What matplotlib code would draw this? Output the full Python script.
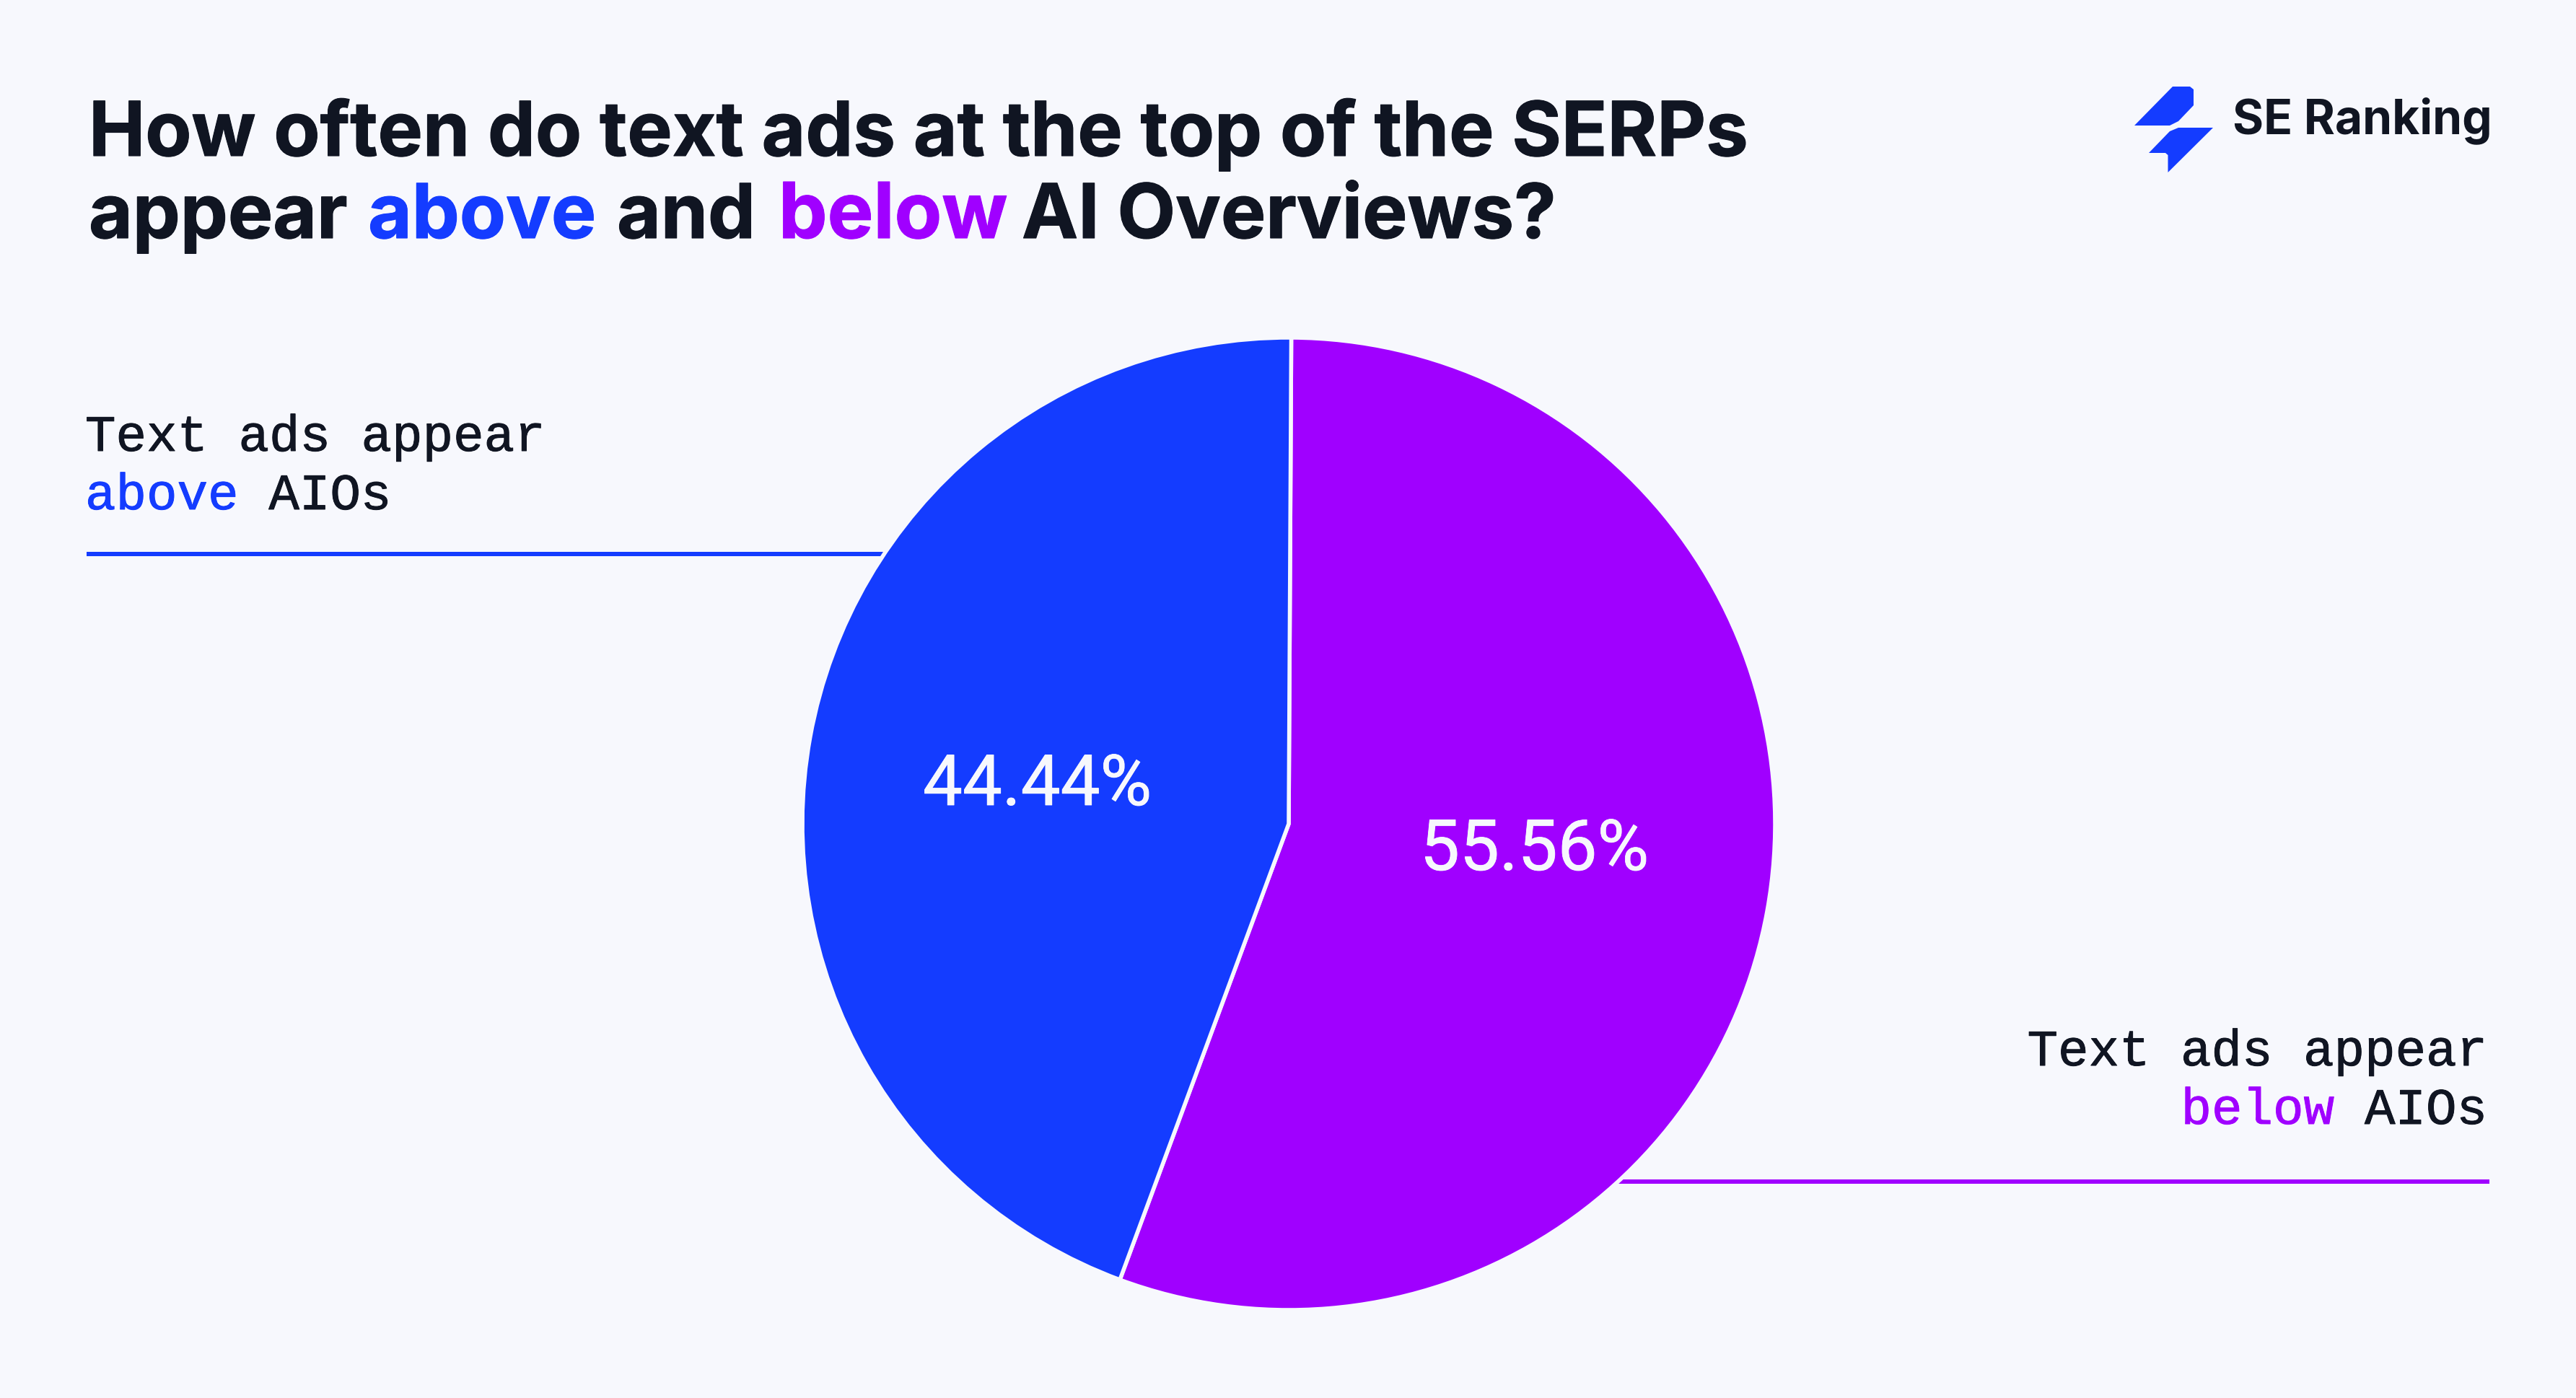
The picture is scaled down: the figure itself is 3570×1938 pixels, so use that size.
import matplotlib
matplotlib.use("Agg")
import matplotlib.pyplot as plt
import matplotlib.patheffects as pe
from matplotlib.patches import Polygon

# ---- data ----
categories = ["Text ads appear below AIOs", "Text ads appear above AIOs"]
shares = [55.56, 44.44]
share_labels = ["55.56%", "44.44%"]

BG = "#F7F8FD"
BLUE = "#143CFF"
PURPLE = "#A000FF"
DARK = "#101522"
W, H = 3570, 1938
DPI = 200
SANS = ["Inter", "DejaVu Sans"]
NUM = ["Roboto", "DejaVu Sans"]
MONO = ["Liberation Mono", "DejaVu Sans Mono"]

fig = plt.figure(figsize=(W / DPI, H / DPI), dpi=DPI, facecolor=BG)
ax = fig.add_axes([0, 0, 1, 1])


def Y(y):
    return H - y


wedges, _ = ax.pie(
    shares,
    colors=[PURPLE, BLUE],
    startangle=89.7,
    counterclock=False,
    center=(1786, Y(1142)),
    radius=674,
    wedgeprops=dict(edgecolor=BG, linewidth=2.0, zorder=3),
)
ax.set_xlim(0, W)
ax.set_ylim(0, H)
ax.set_aspect("equal")
ax.axis("off")

# leader lines
ax.plot([120, 1300], [Y(768), Y(768)], color=BLUE, lw=2.16, solid_capstyle="butt", zorder=1)
ax.plot([2150, 3450], [Y(1638), Y(1638)], color=PURPLE, lw=2.16, solid_capstyle="butt", zorder=1)


def put(x, y, s, color=DARK, size=37.7, family=SANS, weight="bold", ha="left", stroke=0):
    t = ax.text(x, Y(y), s, color=color, fontsize=size, family=family,
                fontweight=weight, ha=ha, va="baseline", zorder=5)
    if stroke:
        t.set_path_effects([pe.withStroke(linewidth=stroke, foreground=color)])
    return t


# title
put(123, 216, "How often do text ads at the top of the SERPs", stroke=0.4)
put(123, 330, "appear", stroke=0.4)
put(510, 330, "above", BLUE, stroke=0.4)
put(855, 330, "and", stroke=0.4)
put(1079, 330, "below", PURPLE, size=38.6, stroke=0.4)
put(1416, 330, "AI Overviews?", stroke=0.4)

# category labels
MS = 25.5
ADV = 42.4
put(118, 625, "Text ads appear", size=MS, family=MONO, weight="normal", stroke=0.35)
put(118, 706, "above", BLUE, size=MS, family=MONO, weight="normal", stroke=0.35)
put(118 + 6 * ADV, 706, "AIOs", size=MS, family=MONO, weight="normal", stroke=0.35)
put(3447, 1477, "Text ads appear", size=MS, family=MONO, weight="normal", ha="right", stroke=0.35)
put(3447, 1558, "AIOs", size=MS, family=MONO, weight="normal", ha="right", stroke=0.35)
put(3447 - 5 * ADV, 1558, "below", PURPLE, size=MS, family=MONO, weight="normal", ha="right", stroke=0.35)

# share labels
put(1279, 1116, share_labels[1], BG, size=35.2, family=NUM, weight="normal", stroke=0.3)
put(1968, 1206, share_labels[0], BG, size=35.2, family=NUM, weight="normal", stroke=0.3)

# logo
logo_a = [(2958, 174), (3011, 120), (3035, 120), (3040, 124), (3040, 146), (3019, 168), (3007, 174)]
logo_b = [(3067, 177), (3004.5, 239), (3004.5, 215), (3001, 212), (2978, 212), (3007, 182), (3019, 177)]
for pts in (logo_a, logo_b):
    ax.add_patch(Polygon([(x, Y(y)) for x, y in pts], closed=True, fc=BLUE, ec="none", zorder=5))
put(3094, 185, "SE Ranking", size=23.7, weight="bold")

fig.savefig("out.png", dpi=DPI, facecolor=BG)
